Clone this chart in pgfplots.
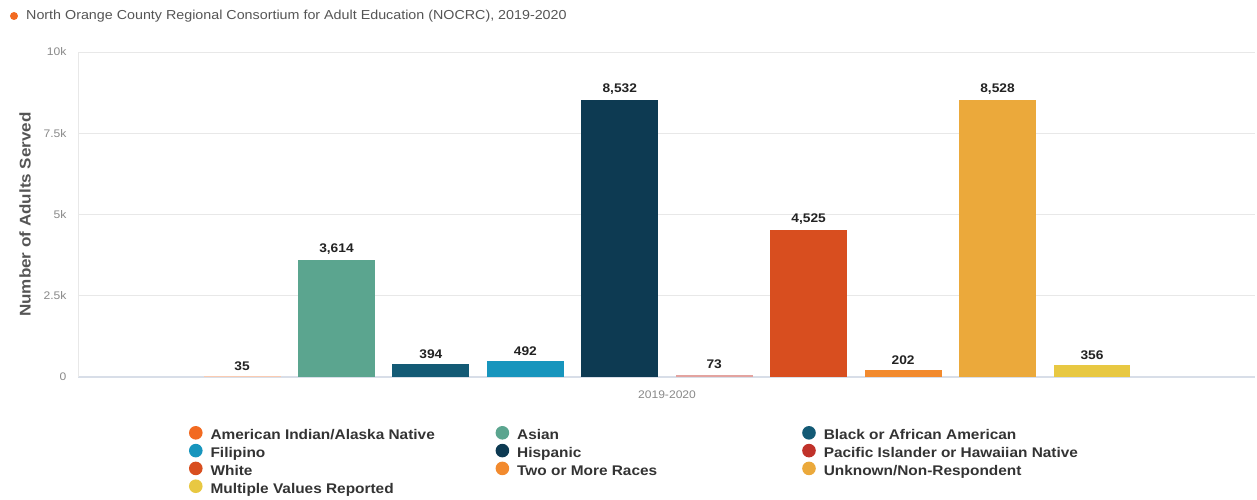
\documentclass[border=0pt]{standalone}
\usepackage{fontspec}
\setmainfont{Liberation Sans}[FakeStretch=1.1]
\usepackage{pgfplots}
\pgfplotsset{compat=1.18}
\definecolor{cAmInd}{HTML}{F26A21}
\definecolor{cAsian}{HTML}{5BA58F}
\definecolor{cBlack}{HTML}{135A75}
\definecolor{cFilip}{HTML}{1795BD}
\definecolor{cHisp}{HTML}{0D3A52}
\definecolor{cPac}{HTML}{C0322A}
\definecolor{cWhite}{HTML}{D84E1F}
\definecolor{cTwo}{HTML}{F28A2E}
\definecolor{cUnk}{HTML}{EBA93B}
\definecolor{cMult}{HTML}{E8C842}
\definecolor{titlegray}{HTML}{555555}
\definecolor{tickgray}{HTML}{888888}
\definecolor{gridgray}{HTML}{E8E8E8}
\definecolor{botline}{HTML}{D8DEE8}
\definecolor{legtext}{HTML}{333333}
\definecolor{valtext}{HTML}{222222}
\pgfplotsset{
  mybar/.style={ybar, bar width=0.815, bar shift=0pt, draw=none, fill=#1, forget plot,
    nodes near coords,
    every node near coord/.append style={font=\bfseries\fontsize{12.5}{14}\selectfont, text=valtext, yshift=2pt}},
}
\begin{document}
\begin{tikzpicture}
\useasboundingbox (-78pt,-123pt) rectangle (1179pt,377pt);
\fill[cAmInd] (-64pt,361pt) circle (4pt);
\node[anchor=west, font=\fontsize{13}{15}\selectfont, text=titlegray, inner sep=0pt] at (-52pt,361pt)
  {North Orange County Regional Consortium for Adult Education (NOCRC), 2019-2020};
\begin{axis}[
  at={(0pt,0pt)}, anchor=south west,
  width=1177pt, height=325pt, scale only axis,
  xmin=-1.737, xmax=10.726, ymin=0, ymax=10000,
  scaled y ticks=false,
  axis x line*=bottom, axis y line*=left,
  x axis line style={-, draw=botline, line width=1.5pt},
  y axis line style={-, draw=gridgray, line width=0.8pt},
  ytick={0,2500,5000,7500,10000},
  yticklabels={0,2.5k,5k,7.5k,10k},
  xtick={4.5}, xticklabels={2019-2020},
  major tick length=0pt,
  ymajorgrids, grid style={gridgray, line width=0.8pt},
  /pgf/number format/assume math mode=true,
  /pgf/number format/1000 sep={,},
  yticklabel style={font=\fontsize{11}{13}\selectfont, text=tickgray, xshift=-8pt},
  xticklabel style={font=\fontsize{11}{13}\selectfont, text=tickgray, yshift=-10pt},
  ylabel={Number of Adults Served},
  ylabel style={at={(axis description cs:-0.045,0.5)}, anchor=center,
    font=\bfseries\fontsize{15.5}{18}\selectfont, text=titlegray},
  legend columns=3,
  legend cell align=left,
  legend style={at={(axis description cs:0.0943,-0.1508)}, anchor=north west,
    draw=none, fill=none, inner sep=0pt, outer sep=0pt,
    font=\bfseries\fontsize{14}{16}\selectfont, text=legtext,
    nodes={inner sep=0pt, text height=9pt, text depth=4pt},
    /tikz/every odd column/.style={column sep=8pt}, row sep=0pt},
  legend image code/.code={\fill[draw=none] (7pt,4.5pt) circle (6.8pt);},
]
\addplot[mybar=cAmInd!35!white] coordinates {(0,35)};
\addplot[mybar=cAsian] coordinates {(1,3614)};
\addplot[mybar=cBlack] coordinates {(2,394)};
\addplot[mybar=cFilip] coordinates {(3,492)};
\addplot[mybar=cHisp] coordinates {(4,8532)};
\addplot[mybar=cPac!45!white] coordinates {(5,73)};
\addplot[mybar=cWhite] coordinates {(6,4525)};
\addplot[mybar=cTwo] coordinates {(7,202)};
\addplot[mybar=cUnk] coordinates {(8,8528)};
\addplot[mybar=cMult] coordinates {(9,356)};
\addlegendimage{draw=none,fill=cAmInd}\addlegendentry{\makebox[285pt][l]{American Indian/Alaska Native}}
\addlegendimage{draw=none,fill=cAsian}\addlegendentry{\makebox[285pt][l]{Asian}}
\addlegendimage{draw=none,fill=cBlack}\addlegendentry{\makebox[285pt][l]{Black or African American}}
\addlegendimage{draw=none,fill=cFilip}\addlegendentry{\makebox[285pt][l]{Filipino}}
\addlegendimage{draw=none,fill=cHisp}\addlegendentry{\makebox[285pt][l]{Hispanic}}
\addlegendimage{draw=none,fill=cPac}\addlegendentry{\makebox[285pt][l]{Pacific Islander or Hawaiian Native}}
\addlegendimage{draw=none,fill=cWhite}\addlegendentry{\makebox[285pt][l]{White}}
\addlegendimage{draw=none,fill=cTwo}\addlegendentry{\makebox[285pt][l]{Two or More Races}}
\addlegendimage{draw=none,fill=cUnk}\addlegendentry{\makebox[285pt][l]{Unknown/Non-Respondent}}
\addlegendimage{draw=none,fill=cMult}\addlegendentry{\makebox[285pt][l]{Multiple Values Reported}}
\end{axis}
\end{tikzpicture}
\end{document}
